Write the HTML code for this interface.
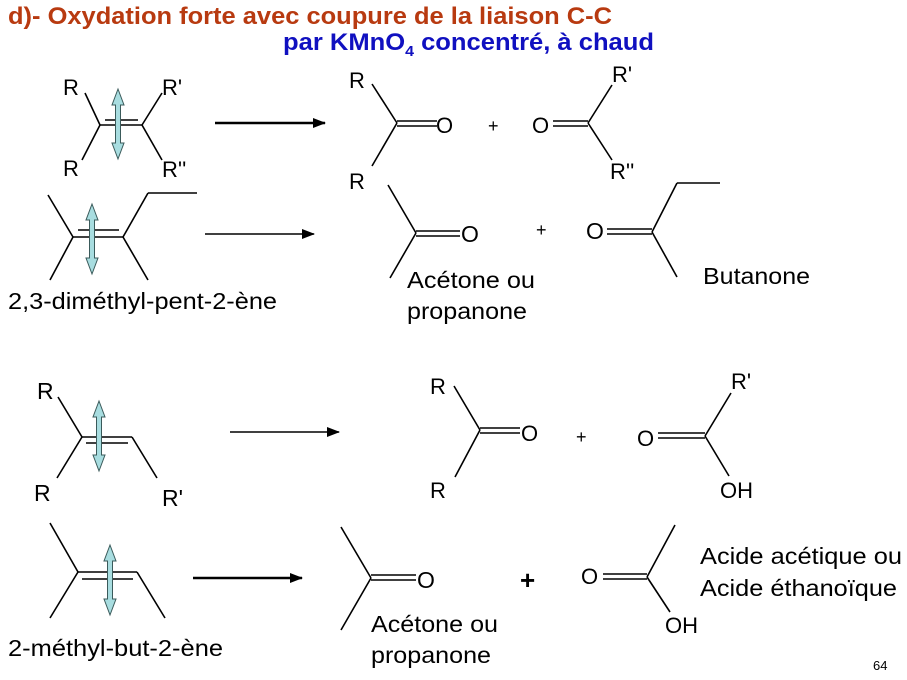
<!DOCTYPE html>
<html><head><meta charset="utf-8"><style>
html,body{margin:0;padding:0;background:#fff;}
svg{display:block;}
text{font-family:"Liberation Sans",Arial,sans-serif;}
</style></head><body>
<svg width="907" height="680" viewBox="0 0 907 680" xmlns="http://www.w3.org/2000/svg">
<defs>
<marker id="ah" markerWidth="13" markerHeight="10" refX="12" refY="5" orient="auto" markerUnits="userSpaceOnUse"><path d="M0,0 L13,5 L0,10 z" fill="#000"/></marker>
<g id="va"><path d="M0,-35 L6,-19 L2.5,-19 L2.5,19 L6,19 L0,35 L-6,19 L-2.5,19 L-2.5,-19 L-6,-19 z" fill="#a8dde0" stroke="#3a5a5a" stroke-width="1"/></g>
</defs>
<text x="8" y="24" font-size="24" font-weight="bold" fill="#b83a10" textLength="604" lengthAdjust="spacingAndGlyphs">d)- Oxydation forte avec coupure de la liaison C-C</text>
<text x="283" y="50" font-size="24" font-weight="bold" fill="#1010c0" textLength="371" lengthAdjust="spacingAndGlyphs">par KMnO<tspan font-size="15" dy="6">4</tspan><tspan dy="-6"> concentré, à chaud</tspan></text>

<g stroke="#000" stroke-width="1.6" fill="none">
<line x1="85" y1="93" x2="100" y2="125"/><line x1="100" y1="125" x2="82" y2="160"/>
<line x1="100" y1="125" x2="142" y2="125"/><line x1="105" y1="120" x2="138" y2="120"/>
<line x1="142" y1="125" x2="162" y2="93"/><line x1="142" y1="125" x2="162" y2="160"/>
<line x1="215" y1="123" x2="325" y2="123" stroke-width="2.5" marker-end="url(#ah)"/>
<line x1="372" y1="84" x2="397" y2="123"/><line x1="397" y1="123" x2="372" y2="166"/>
<line x1="397" y1="121" x2="437" y2="121"/><line x1="397" y1="126" x2="437" y2="126"/>
<line x1="553" y1="121" x2="588" y2="121"/><line x1="553" y1="126" x2="588" y2="126"/>
<line x1="588" y1="123" x2="612" y2="85"/><line x1="588" y1="123" x2="612" y2="160"/>
<line x1="48" y1="195" x2="73" y2="237"/><line x1="73" y1="237" x2="50" y2="280"/>
<line x1="73" y1="237" x2="123" y2="237"/><line x1="78" y1="230" x2="119" y2="230"/>
<line x1="123" y1="237" x2="148" y2="193"/><line x1="148" y1="193" x2="197" y2="193"/>
<line x1="123" y1="237" x2="148" y2="280"/>
<line x1="205" y1="234" x2="314" y2="234" marker-end="url(#ah)"/>
<line x1="388" y1="185" x2="416" y2="233"/><line x1="416" y1="233" x2="390" y2="278"/>
<line x1="416" y1="231" x2="460" y2="231"/><line x1="416" y1="236" x2="460" y2="236"/>
<line x1="607" y1="229" x2="652" y2="229"/><line x1="607" y1="234" x2="652" y2="234"/>
<line x1="652" y1="232" x2="677" y2="183"/><line x1="677" y1="183" x2="720" y2="183"/>
<line x1="652" y1="232" x2="677" y2="277"/>
<line x1="58" y1="397" x2="82" y2="437"/><line x1="82" y1="437" x2="57" y2="478"/>
<line x1="82" y1="437" x2="132" y2="437"/><line x1="86" y1="443" x2="128" y2="443"/>
<line x1="132" y1="437" x2="157" y2="478"/>
<line x1="230" y1="432" x2="339" y2="432" marker-end="url(#ah)"/>
<line x1="454" y1="386" x2="480" y2="430"/><line x1="480" y1="430" x2="455" y2="477"/>
<line x1="480" y1="428" x2="520" y2="428"/><line x1="480" y1="433" x2="520" y2="433"/>
<line x1="658" y1="433" x2="705" y2="433"/><line x1="658" y1="438" x2="705" y2="438"/>
<line x1="705" y1="436" x2="731" y2="393"/><line x1="705" y1="436" x2="729" y2="476"/>
<line x1="50" y1="523" x2="78" y2="572"/><line x1="78" y1="572" x2="50" y2="618"/>
<line x1="78" y1="572" x2="137" y2="572"/><line x1="82" y1="579" x2="133" y2="579"/>
<line x1="137" y1="572" x2="165" y2="618"/>
<line x1="193" y1="578" x2="302" y2="578" stroke-width="2.5" marker-end="url(#ah)"/>
<line x1="341" y1="527" x2="371" y2="578"/><line x1="371" y1="578" x2="341" y2="630"/>
<line x1="371" y1="575" x2="416" y2="575"/><line x1="371" y1="580" x2="416" y2="580"/>
<line x1="603" y1="574" x2="647" y2="574"/><line x1="603" y1="579" x2="647" y2="579"/>
<line x1="647" y1="577" x2="675" y2="525"/><line x1="647" y1="577" x2="670" y2="612"/>
</g>
<use href="#va" x="118" y="124"/>
<use href="#va" x="92" y="239"/>
<use href="#va" x="99" y="436"/>
<use href="#va" x="110" y="580"/>

<g font-size="22" fill="#000">
<text x="63" y="95">R</text><text x="63" y="176">R</text>
<text x="162" y="95">R'</text><text x="162" y="177">R''</text>
<text x="349" y="88">R</text><text x="349" y="189">R</text>
<text x="436" y="133">O</text><text x="488" y="132" font-size="18">+</text>
<text x="532" y="133">O</text>
<text x="612" y="82">R'</text><text x="610" y="179">R''</text>
<text x="461" y="242" font-size="23">O</text><text x="536" y="236" font-size="18">+</text>
<text x="586" y="239" font-size="23">O</text>
<text x="37" y="399" font-size="23">R</text><text x="34" y="501" font-size="23">R</text>
<text x="162" y="506" font-size="23">R'</text>
<text x="430" y="394">R</text><text x="430" y="498">R</text>
<text x="521" y="441">O</text><text x="576" y="443" font-size="18">+</text>
<text x="637" y="446">O</text><text x="731" y="389">R'</text>
<text x="720" y="498">OH</text>
<text x="417" y="588" font-size="23">O</text>
<text x="520" y="589" font-size="26" font-weight="bold">+</text>
<text x="581" y="584">O</text><text x="665" y="633">OH</text>
</g>
<g font-size="23" fill="#000">
<text x="8" y="309" textLength="269" lengthAdjust="spacingAndGlyphs">2,3-diméthyl-pent-2-ène</text>
<text x="407" y="288" textLength="128" lengthAdjust="spacingAndGlyphs">Acétone ou</text>
<text x="407" y="319" textLength="120" lengthAdjust="spacingAndGlyphs">propanone</text>
<text x="703" y="284" textLength="107" lengthAdjust="spacingAndGlyphs">Butanone</text>
<text x="8" y="656" textLength="215" lengthAdjust="spacingAndGlyphs">2-méthyl-but-2-ène</text>
<text x="371" y="632" textLength="127" lengthAdjust="spacingAndGlyphs">Acétone ou</text>
<text x="371" y="663" textLength="120" lengthAdjust="spacingAndGlyphs">propanone</text>
<text x="700" y="564" textLength="202" lengthAdjust="spacingAndGlyphs">Acide acétique ou</text>
<text x="700" y="596" textLength="197" lengthAdjust="spacingAndGlyphs">Acide éthanoïque</text>
</g>
<text x="873" y="670" font-size="13">64</text>
</svg>
</body></html>
